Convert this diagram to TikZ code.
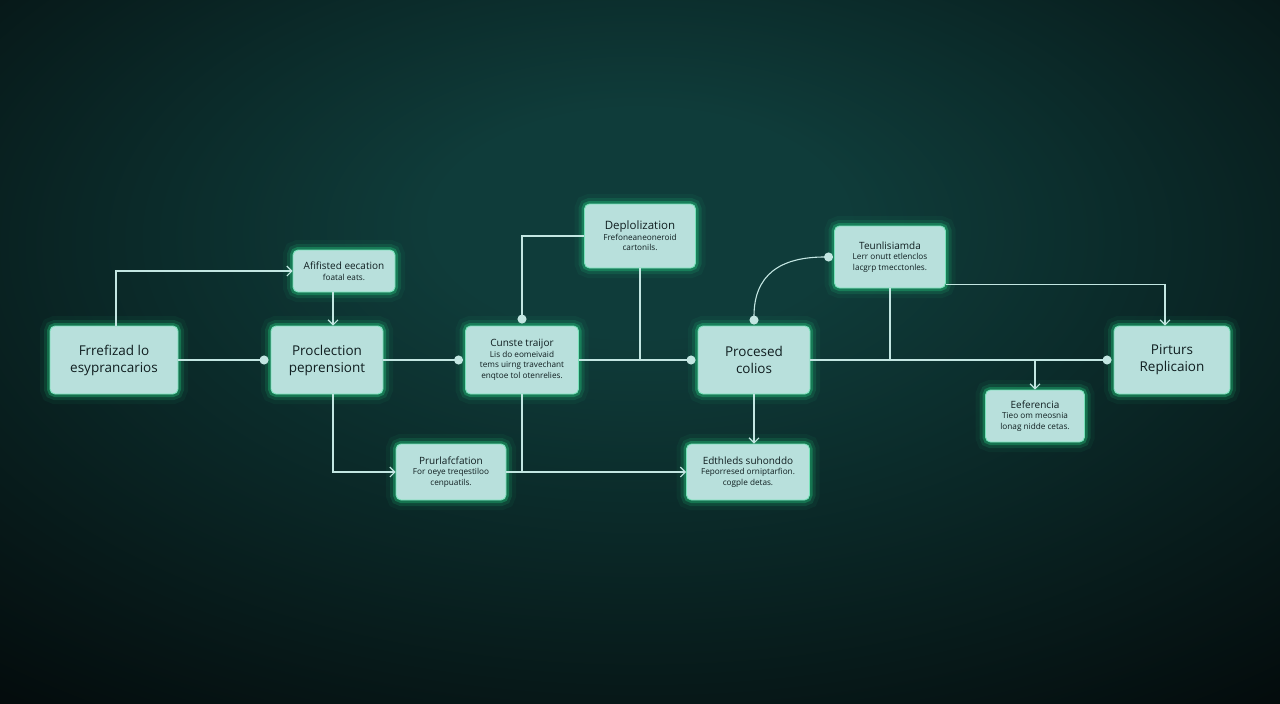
\documentclass[tikz,border=0pt]{standalone}
\usepackage{fontspec}
\setmainfont{Open Sans}
\usetikzlibrary{arrows.meta}

\definecolor{bgIn}{RGB}{15,60,58}
\definecolor{bgOut}{RGB}{3,8,9}
\pgfdeclareradialshading{bgGlow}{\pgfpoint{0bp}{10bp}}{color(0bp)=(bgIn); color(8bp)=(bgIn); color(42bp)=(bgOut); color(100bp)=(bgOut)}

\newcommand{\ttl}{\fontsize{10}{13}\selectfont}

\begin{document}
\begin{tikzpicture}[x=1pt,y=-1pt]
%% Colors
\definecolor{boxFill}{RGB}{184,224,220}
\definecolor{boxEdge}{RGB}{120,225,185}
\definecolor{glowCol}{RGB}{40,230,140}
\definecolor{boxText}{RGB}{16,30,32}
\definecolor{wireCol}{RGB}{195,230,226}
%% Styles
\tikzset{
card/.style={rectangle, rounded corners=5pt, fill=boxFill, draw=boxEdge, line width=0.9pt,
  text=boxText, align=center, inner sep=0pt,
  preaction={draw=glowCol, line width=20pt, draw opacity=0.05},
  preaction={draw=glowCol, line width=12pt, draw opacity=0.12},
  preaction={draw=glowCol, line width=6pt, draw opacity=0.28}},
bigcard/.style={card, font=\fontsize{13.5}{17}\selectfont},
smallcard/.style={card, font=\fontsize{8.2}{10.5}\selectfont},
wire/.style={draw=wireCol, line width=1.1pt},
arr/.style={wire, -{Straight Barb[length=5pt,width=10pt]}},
dotl/.style={wire, -{Circle[length=9pt]}, shorten >=2pt}
}

%% Background
\shade[shading=bgGlow] (0,0) rectangle (1280,704);
\useasboundingbox (0,0) rectangle (1280,704);

%% Cards
\node[bigcard, minimum width=128pt, minimum height=68pt] (entry) at (114,360) {Frrefizad lo\\esyprancarios};
\node[smallcard, minimum width=102pt, minimum height=42pt] (adjust) at (344,271) {{\ttl Afifisted eecation}\\foatal eats.};
\node[bigcard, minimum width=112pt, minimum height=68pt] (prod) at (327,360) {Proclection\\peprensiont};
\node[smallcard, minimum width=113pt, minimum height=68pt] (cust) at (522,360) {{\ttl Cunste traijor}\\Lis do eomeivaid\\tems uirng travechant\\enqtoe tol otenrelies.};
\node[smallcard, minimum width=111pt, minimum height=64pt] (deplo) at (640,236) {{\fontsize{11.5}{15}\selectfont Deplolization}\\Frefoneaneoneroid\\cartonils.};
\node[bigcard, minimum width=112pt, minimum height=68pt] (proc) at (754,360) {Procesed\\colios};
\node[smallcard, minimum width=111pt, minimum height=62pt] (teun) at (890,257) {{\ttl Teunlisiamda}\\Lerr onutt etlenclos\\lacgrp tmecctonles.};
\node[bigcard, minimum width=116pt, minimum height=68pt] (pict) at (1172,360) {Pirturs\\Replicaion};
\node[smallcard, minimum width=99pt, minimum height=52pt] (refer) at (1035,416) {{\ttl Eeferencia}\\Tieo om meosnia\\lonag nidde cetas.};
\node[smallcard, minimum width=110pt, minimum height=56pt] (prurl) at (451,472) {{\ttl Prurlafcfation}\\For oeye treqestiloo\\cenpuatils.};
\node[smallcard, minimum width=123pt, minimum height=56pt] (edit) at (748,472) {{\ttl Edthleds suhonddo}\\Feporresed orniptarfion.\\cogple detas.};

%% Wires
% left part
\draw[arr] ([xshift=2pt]entry.north) |- (adjust.west);
\draw[arr] ([xshift=-11pt]adjust.south) -- ([xshift=6pt]prod.north);
\draw[dotl] (entry.east) -- (prod.west);
\draw[dotl] (prod.east) -- (cust.west);
\draw[arr] ([xshift=6pt]prod.south) |- (prurl.west);
% middle part
\draw[dotl] (deplo.west) -| (cust.north);
\draw[wire] (deplo.south) -- (deplo.south |- cust.east);
\draw[dotl] (cust.east) -- (proc.west);
\draw[arr] (cust.south) |- (edit.west);
\draw[wire] (prurl.east) -- (prurl.east -| cust.south);
\draw[wire, {Circle[length=9pt]}-{Circle[length=9pt]}, shorten <=1pt, shorten >=1pt]
  (teun.west) .. controls (780,257) and (754,275) .. (proc.north);
\draw[arr] (proc.south) -- (proc.south |- edit.north);
% right part
\draw[dotl] (proc.east) -- (pict.west);
\draw[wire] (teun.south) -- (teun.south |- proc.east);
\draw[arr] ([yshift=4pt]teun.south east) -| ([xshift=-7pt]pict.north);
\draw[arr] (refer.north |- proc.east) -- (refer.north);

\end{tikzpicture}
\end{document}
